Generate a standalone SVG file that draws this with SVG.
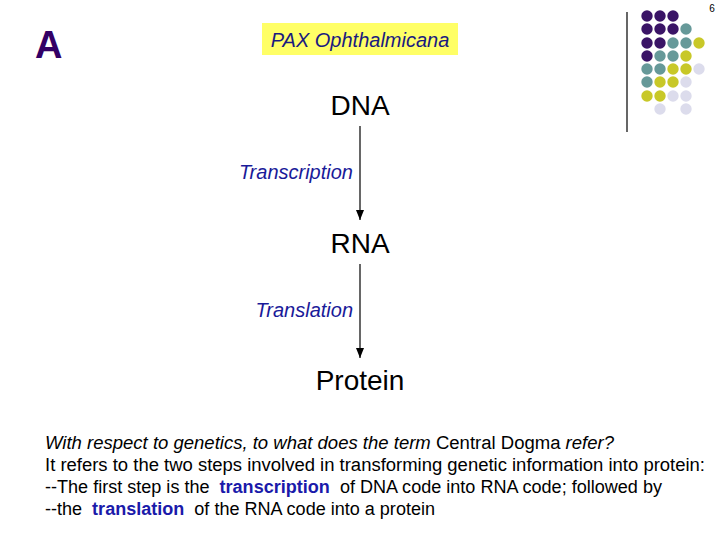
<svg xmlns="http://www.w3.org/2000/svg" width="720" height="540" viewBox="0 0 720 540">
<style>
.s{font-family:"Liberation Sans",Arial,sans-serif}
.node{font-size:28px;fill:#000}
.lbl{font-size:20px;font-style:italic;fill:#1a1a99}
.body{font-size:18px;fill:#000}
.p{fill:#3a1466}.t{fill:#669999}.y{fill:#c8c828}.l{fill:#dcdcec}
</style>
<defs>
<marker id="ah" markerWidth="10" markerHeight="8" refX="10" refY="4" orient="auto" markerUnits="userSpaceOnUse" viewBox="0 0 10 8">
<path d="M0,0 L10,4 L0,8 Z" fill="#000"/>
</marker>
</defs>
<rect width="720" height="540" fill="#fff"/>
<text class="s" x="712" y="12" font-size="10" text-anchor="middle">6</text>
<line x1="627" y1="12" x2="627" y2="132" stroke="#000" stroke-width="1.2"/>
<g id="dots">
<circle class="p" cx="647" cy="16" r="5.7"/><circle class="p" cx="660" cy="16" r="5.7"/><circle class="p" cx="673" cy="16" r="5.7"/>
<circle class="p" cx="647" cy="29" r="5.7"/><circle class="p" cx="660" cy="29" r="5.7"/><circle class="p" cx="673" cy="29" r="5.7"/><circle class="t" cx="686" cy="29" r="5.7"/>
<circle class="p" cx="647" cy="43" r="5.7"/><circle class="p" cx="660" cy="43" r="5.7"/><circle class="t" cx="673" cy="43" r="5.7"/><circle class="t" cx="686" cy="43" r="5.7"/><circle class="y" cx="699" cy="43" r="5.7"/>
<circle class="p" cx="647" cy="56" r="5.7"/><circle class="t" cx="660" cy="56" r="5.7"/><circle class="t" cx="673" cy="56" r="5.7"/><circle class="y" cx="686" cy="56" r="5.7"/>
<circle class="t" cx="647" cy="69" r="5.7"/><circle class="t" cx="660" cy="69" r="5.7"/><circle class="y" cx="673" cy="69" r="5.7"/><circle class="y" cx="686" cy="69" r="5.7"/><circle class="l" cx="699" cy="69" r="5.7"/>
<circle class="t" cx="647" cy="82" r="5.7"/><circle class="y" cx="660" cy="82" r="5.7"/><circle class="y" cx="673" cy="82" r="5.7"/><circle class="l" cx="686" cy="82" r="5.7"/>
<circle class="y" cx="647" cy="96" r="5.7"/><circle class="y" cx="660" cy="96" r="5.7"/><circle class="l" cx="673" cy="96" r="5.7"/><circle class="l" cx="686" cy="96" r="5.7"/>
<circle class="l" cx="660" cy="109" r="5.7"/><circle class="l" cx="686" cy="109" r="5.7"/>
</g>
<text class="s" x="35" y="58" font-size="38" font-weight="bold" fill="#330066">A</text>
<g id="title">
<rect x="262" y="23" width="196" height="32" fill="#ffff66"/>
<text class="s" x="360" y="47" font-size="20" font-style="italic" fill="#1a1a80" text-anchor="middle">PAX Ophthalmicana</text>
</g>
<g id="connectors">
<line x1="360" y1="126" x2="360" y2="220" stroke="#000" stroke-width="1.2" marker-end="url(#ah)"/>
<line x1="360" y1="264" x2="360" y2="358" stroke="#000" stroke-width="1.2" marker-end="url(#ah)"/>
<text class="s lbl" x="353" y="179" text-anchor="end">Transcription</text>
<text class="s lbl" x="353" y="317" text-anchor="end">Translation</text>
</g>
<g id="dna"><text class="s node" x="360" y="115" text-anchor="middle">DNA</text></g>
<g id="rna"><text class="s node" x="360" y="253" text-anchor="middle">RNA</text></g>
<g id="protein"><text class="s node" x="360" y="390" text-anchor="middle">Protein</text></g>
<g id="body" class="s body">
<text x="45" y="449" textLength="569" lengthAdjust="spacingAndGlyphs"><tspan font-style="italic">With respect to genetics, to what does the term </tspan>Central Dogma<tspan font-style="italic"> refer?</tspan></text>
<text x="45" y="471" textLength="660" lengthAdjust="spacingAndGlyphs">It refers to the two steps involved in transforming genetic information into protein:</text>
<text x="45" y="493" xml:space="preserve" textLength="617" lengthAdjust="spacingAndGlyphs">--The first step is the  <tspan font-weight="bold" fill="#1a1aaa">transcription</tspan>  of DNA code into RNA code; followed by</text>
<text x="45" y="515" xml:space="preserve" textLength="390" lengthAdjust="spacingAndGlyphs">--the  <tspan font-weight="bold" fill="#1a1aaa">translation</tspan>  of the RNA code into a protein</text>
</g>
</svg>
